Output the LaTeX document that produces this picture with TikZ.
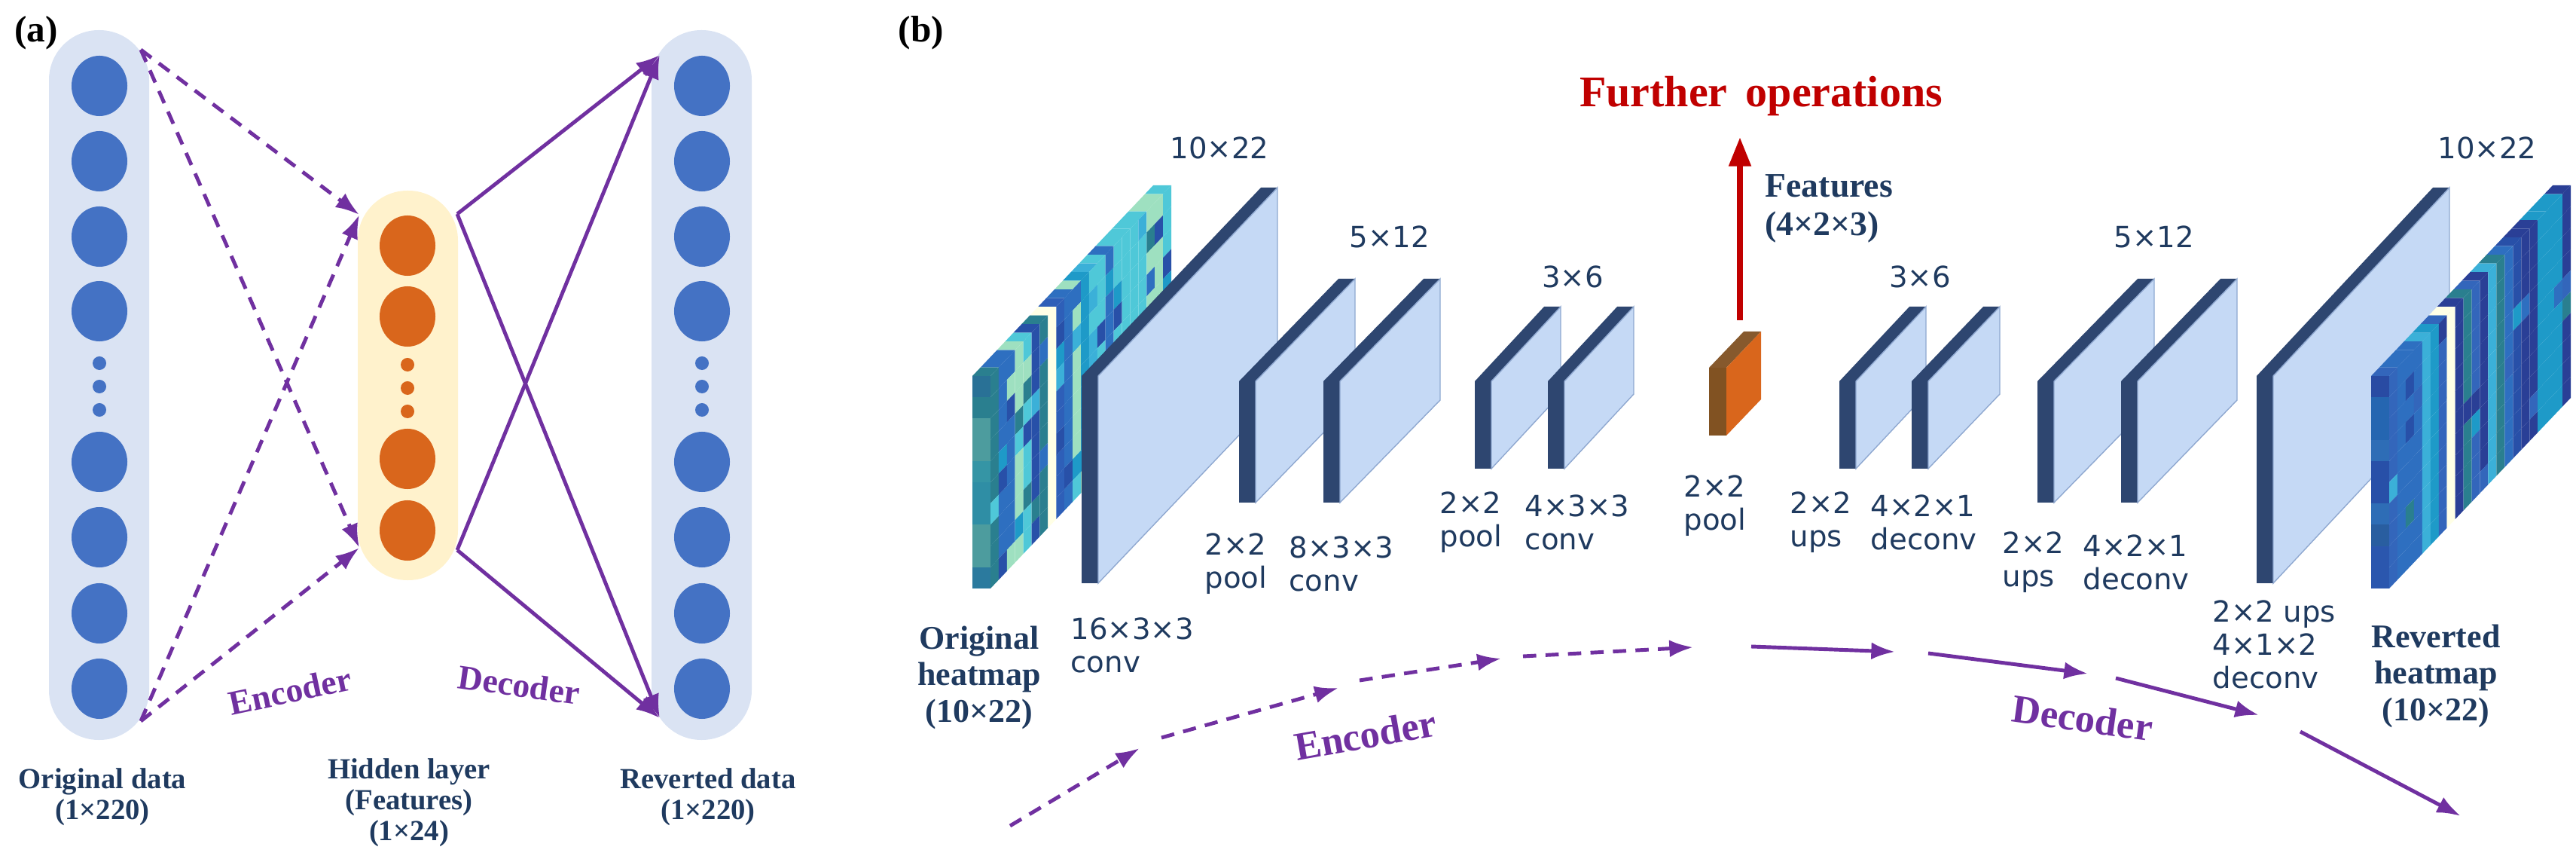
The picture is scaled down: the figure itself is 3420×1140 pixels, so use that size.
\documentclass[tikz,border=0pt]{standalone}
\usepackage{fontspec}
\setmainfont{Liberation Serif}
\newfontfamily\labf{DejaVu Sans}
\usetikzlibrary{arrows.meta,shapes.geometric}
\definecolor{navy}{HTML}{1F3A5F}
\definecolor{pur}{HTML}{7030A0}
\definecolor{pillb}{HTML}{DAE3F3}
\definecolor{pilly}{HTML}{FFF2CC}
\definecolor{cblue}{HTML}{4472C4}
\definecolor{corange}{HTML}{D9661C}
\definecolor{bdark}{HTML}{2E4670}
\definecolor{blight}{HTML}{C5D9F5}
\definecolor{bedge}{HTML}{8FA8D0}
\definecolor{redop}{HTML}{C00000}
% heatmap palettes
\definecolor{ha1}{HTML}{2A7F8F}\definecolor{ha2}{HTML}{3BB0D8}\definecolor{ha3}{HTML}{4FC8D8}
\definecolor{ha4}{HTML}{2E6FC0}\definecolor{ha5}{HTML}{2850A8}\definecolor{ha6}{HTML}{9EE0C0}
\definecolor{ha7}{HTML}{1E9AC8}\definecolor{ha8}{HTML}{FFFFE6}\definecolor{ha9}{HTML}{2E5FB8}
\definecolor{hb1}{HTML}{2850A8}\definecolor{hb2}{HTML}{2E6FC0}\definecolor{hb3}{HTML}{2A3F96}
\definecolor{hb4}{HTML}{1E9AC8}\definecolor{hb5}{HTML}{3366BB}\definecolor{hb6}{HTML}{2A7F8F}
\definecolor{hb7}{HTML}{3BB0D8}\definecolor{hb8}{HTML}{FFFFE6}\definecolor{hb9}{HTML}{2A3F96}
\newcommand\blk[7][bdark]{% x0 t yt yb dx dy
 \fill[#1] (#2,#4) rectangle ({#2+#3},#5);
 \fill[#1] (#2,#4) -- ({#2+#6},{#4+#7}) -- ({#2+#3+#6},{#4+#7}) -- ({#2+#3},#4) -- cycle;
 \filldraw[fill=blight,draw=bedge,line width=0.4pt] ({#2+#3},#4) -- ({#2+#3+#6},{#4+#7}) -- ({#2+#3+#6},{#5+#7}) -- ({#2+#3},#5) -- cycle;}
\newcommand\orangeblk[6]{%
 \fill[brown!60!black!90!orange] (#1,#3) rectangle ({#1+#2},#4);
 \fill[brown!70!black] (#1,#3) -- ({#1+#5},{#3+#6}) -- ({#1+#2+#5},{#3+#6}) -- ({#1+#2},#3) -- cycle;
 \fill[corange] ({#1+#2},#3) -- ({#1+#2+#5},{#3+#6}) -- ({#1+#2+#5},{#4+#6}) -- ({#1+#2},#4) -- cycle;}
\newcommand\heatmap[8]{% x0 t yt yb dx dy prefix threshold
 \foreach \i in {0,...,21}{
  \pgfmathrandominteger{\cb}{1}{7}
  \ifnum\i=7 \def\cb{8}\fi
  \ifnum\i=8 \def\cb{9}\fi
  \fill[#7\cb] ({#1+#5*\i/22},{#3+#6*\i/22}) -- ({#1+#5*(\i+1)/22},{#3+#6*(\i+1)/22}) -- ({#1+#2+#5*(\i+1)/22},{#3+#6*(\i+1)/22}) -- ({#1+#2+#5*\i/22},{#3+#6*\i/22}) -- cycle;
  \foreach \j in {0,...,9}{
   \pgfmathrandominteger{\r}{1}{10}
   \ifnum\r>#8 \pgfmathrandominteger{\cc}{1}{7}\else\let\cc\cb\fi
   \ifnum\i=7 \let\cc\cb\fi
   \fill[#7\cc] ({#1+#2+#5*\i/22},{#3+#6*\i/22+(#4-#3)*\j/10}) -- ({#1+#2+#5*(\i+1)/22},{#3+#6*(\i+1)/22+(#4-#3)*\j/10}) -- ({#1+#2+#5*(\i+1)/22},{#3+#6*(\i+1)/22+(#4-#3)*(\j+1)/10}) -- ({#1+#2+#5*\i/22},{#3+#6*\i/22+(#4-#3)*(\j+1)/10}) -- cycle;
  }}
 \foreach \j in {0,...,9}{
   \pgfmathrandominteger{\cc}{1}{7}
   \fill[#71!70!#7\cc] (#1,{#3+(#4-#3)*\j/10}) rectangle ({#1+#2},{#3+(#4-#3)*(\j+1)/10});}}
\tikzset{
 nb/.style={ellipse,fill=cblue,minimum width=0.74cm,minimum height=0.80cm,inner sep=0},
 no/.style={ellipse,fill=corange,minimum width=0.74cm,minimum height=0.80cm,inner sep=0},
 dotb/.style={circle,fill=cblue,minimum size=0.18cm,inner sep=0},
 doto/.style={circle,fill=corange,minimum size=0.18cm,inner sep=0},
 enc/.style={pur,line width=1.4pt,dash pattern=on 5pt off 3.5pt,-{Latex[length=9pt,width=6.5pt]}},
 dec/.style={pur,line width=1.4pt,-{Latex[length=9pt,width=6.5pt]}},
 bl/.style={font=\bfseries\fontsize{11}{11.6}\selectfont,text=navy,align=center,inner sep=0},
 hl/.style={font=\bfseries\fontsize{12.5}{13.8}\selectfont,text=navy,align=center,inner sep=0},
 lab/.style={font=\labf\fontsize{11}{12.5}\selectfont,text=navy,align=left,inner sep=0},
 pt/.style={font=\bfseries\fontsize{15}{16}\selectfont,text=pur,inner sep=0},
}
\begin{document}
\begin{tikzpicture}[x=0.01cm,y=-0.01cm]
\useasboundingbox (0,0) rectangle (3420,1140);
\pgfmathsetseed{7}
% ---------------- panel (a)
\node[font=\bfseries\fontsize{14}{14}\selectfont] (la) at (48,44) {(a)};
\fill[pillb,rounded corners=0.66cm] (65,40) rectangle (198,982);
\fill[pilly,rounded corners=0.66cm] (475,253) rectangle (608,770);
\fill[pillb,rounded corners=0.66cm] (865,40) rectangle (998,982);
\foreach \y [count=\k] in {114,214,314,413,613,713,814,914}{
  \node[nb] (L\k) at (132,\y) {};
  \node[nb] (R\k) at (932,\y) {};}
\foreach \y [count=\k] in {482,513,544}{
  \node[dotb] (Ld\k) at (132,\y) {};
  \node[dotb] (Rd\k) at (932,\y) {};
  \node[doto] (Md\k) at (541,\y+2) {};}
\foreach \y [count=\k] in {326,420,609,704}{\node[no] (M\k) at (541,\y) {};}
\coordinate (aLt) at (187,66); \coordinate (aLb) at (187,957);
\coordinate (aMt) at (477,285); \coordinate (aMb) at (477,727);
\coordinate (aMtr) at (607,284); \coordinate (aMbr) at (607,730);
\coordinate (aRt) at (876,73); \coordinate (aRb) at (876,953);
\draw[enc] (aLt) -- (aMt); \draw[enc] (aLt) -- (aMb);
\draw[enc] (aLb) -- (aMt); \draw[enc] (aLb) -- (aMb);
\draw[dec] (aMtr) -- (aRt); \draw[dec] (aMtr) -- (aRb);
\draw[dec] (aMbr) -- (aRt); \draw[dec] (aMbr) -- (aRb);
\node[pt,rotate=12,font=\bfseries\fontsize{13}{13}\selectfont] (encA) at (385,917) {Encoder};
\node[pt,rotate=-8,font=\bfseries\fontsize{13}{13}\selectfont] (decA) at (689,909) {Decoder};
\node[bl] (t1) at (136,1058) {Original data\\(1×220)};
\node[bl] (t2) at (543,1065) {Hidden layer\\(Features)\\(1×24)};
\node[bl] (t3) at (940,1058) {Reverted data\\(1×220)};
% ---------------- panel (b)
\node[font=\bfseries\fontsize{14}{14}\selectfont] (lb) at (1223,44) {(b)};
\heatmap{1291}{24}{499}{781}{240}{-253}{ha}{7}
\blk{1436}{22}{499}{774}{238}{-250}
\blk{1645}{22}{506}{667}{132}{-136}
\blk{1757}{22}{506}{667}{133}{-136}
\blk{1958}{22}{506}{622}{92}{-99}
\blk{2055}{22}{506}{622}{92}{-99}
\orangeblk{2269}{23}{488}{578}{46}{-48}
\blk{2442}{22}{506}{622}{93}{-99}
\blk{2538}{22}{506}{622}{95}{-99}
\blk{2705}{22}{506}{667}{133}{-136}
\blk{2816}{22}{506}{667}{132}{-136}
\blk{2996}{22}{499}{774}{234}{-250}
\heatmap{3148}{24}{499}{781}{241}{-253}{hb}{9}
% further operations
\coordinate (fo0) at (2310,425); \coordinate (fo1) at (2310,182);
\draw[redop,line width=2.2pt,-{Triangle[length=11pt,width=8pt]}] (fo0) -- (fo1);
\node[font=\bfseries\fontsize{16.5}{16.5}\selectfont,text=redop,inner sep=0] (fop) at (2338,128) {Further\, operations};
\node[font=\bfseries\fontsize{13}{14.5}\selectfont,text=navy,align=left,inner sep=0,anchor=west] (feat) at (2343,277) {Features\\(4×2×3)};
% dims
\node[lab] (d1) at (1619,196) {10×22};
\node[lab] (d2) at (1845,314) {5×12};
\node[lab] (d3) at (2088,367) {3×6};
\node[lab] (d4) at (2549,367) {3×6};
\node[lab] (d5) at (2860,314) {5×12};
\node[lab] (d6) at (3302,196) {10×22};
% op labels
\node[lab,anchor=west] (o1) at (1421,856) {16×3×3\\conv};
\node[lab,anchor=west] (o2) at (1599,748) {2×2\\pool};
\node[lab,anchor=west] (o3) at (1711,748) {8×3×3\\conv};
\node[lab,anchor=west] (o4) at (1911,693) {2×2\\pool};
\node[lab,anchor=west] (o5) at (2024,693) {4×3×3\\conv};
\node[lab,anchor=west] (o6) at (2235,671) {2×2\\pool};
\node[lab,anchor=west] (o7) at (2376,693) {2×2\\ups};
\node[lab,anchor=west] (o8) at (2483,693) {4×2×1\\deconv};
\node[lab,anchor=west] (o9) at (2658,746) {2×2\\ups};
\node[lab,anchor=west] (o10) at (2765,746) {4×2×1\\deconv};
\node[lab,anchor=west] (o11) at (2937,855) {2×2 ups\\4×1×2\\deconv};
\node[hl] (h1) at (1300,899) {Original\\heatmap\\(10×22)};
\node[hl] (h2) at (3234,897) {Reverted\\heatmap\\(10×22)};
% bottom arrows
\coordinate (e1) at (1341,1096); \coordinate (e2) at (1513,993);
\coordinate (e3) at (1542,979); \coordinate (e4) at (1777,913);
\coordinate (e5) at (1805,903); \coordinate (e6) at (1993,874);
\coordinate (e7) at (2022,871); \coordinate (e8) at (2248,859);
\draw[enc] (e1) -- (e2); \draw[enc] (e3) -- (e4); \draw[enc] (e5) -- (e6); \draw[enc] (e7) -- (e8);
\coordinate (c1) at (2325,858); \coordinate (c2) at (2516,865);
\coordinate (c3) at (2560,867); \coordinate (c4) at (2772,894);
\coordinate (c5) at (2809,900); \coordinate (c6) at (2999,949);
\coordinate (c7) at (3054,971); \coordinate (c8) at (3267,1083);
\draw[dec] (c1) -- (c2); \draw[dec] (c3) -- (c4); \draw[dec] (c5) -- (c6); \draw[dec] (c7) -- (c8);
\node[pt,rotate=10] (encB) at (1813,975) {Encoder};
\node[pt,rotate=-8] (decB) at (2765,953) {Decoder};
\end{tikzpicture}
\end{document}
